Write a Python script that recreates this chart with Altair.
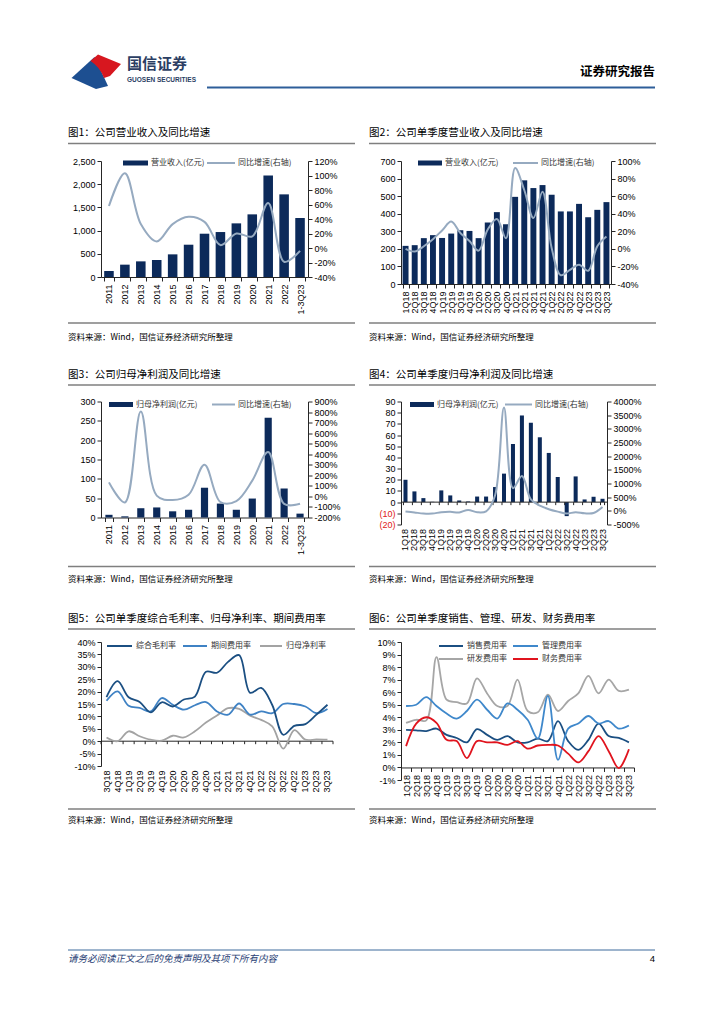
import altair as alt
import pandas as pd

CN = "Noto Sans CJK SC"
NUM = "Liberation Sans"
NAVY = "#0C2A5A"
YOY_GRAY = "#96AAC0"
AXIS_C = "#262626"
SEP_C = "#7F7F7F"
SOURCE = "资料来源：Wind，国信证券经济研究所整理"

# ---------------- data ----------------
years = ["2011", "2012", "2013", "2014", "2015", "2016", "2017", "2018",
         "2019", "2020", "2021", "2022", "1-3Q23"]
revenue = [129, 266, 337, 366, 488, 696, 933, 969, 1156, 1350, 2190, 1781, 1271]
revenue_yoy = [58, 103, 33, 9, 33, 43, 36, 4, 20, 16, 62, -19, -4]

quarters = ["1Q18", "2Q18", "3Q18", "4Q18", "1Q19", "2Q19", "3Q19", "4Q19",
            "1Q20", "2Q20", "3Q20", "4Q20", "1Q21", "2Q21", "3Q21", "4Q21",
            "1Q22", "2Q22", "3Q22", "4Q22", "1Q23", "2Q23", "3Q23"]
revenue_q = [217, 221, 261, 278, 262, 287, 306, 302, 261, 350, 409, 340,
             496, 590, 546, 563, 508, 413, 413, 456, 380, 422, 466]
revenue_q_yoy = [0, -3, 3, 11, 21, 31, 18, 9, -2, 22, 34, 12,
                 92, 67, 35, 65, 1, -30, -24, -18, -25, 3, 14]

net_profit = [7, 3, 24, 26, 16, 20, 77, 36, 20, 49, 258, 75, 10]
net_profit_yoy = [133, -57, 805, 8, -35, 15, 300, -53, -44, 150, 420, -71, -70]

net_profit_q = [20, 9.6, 3.6, 0.3, 10.5, 6, 1.5, 0.6, 5, 5, 13.5, 25.5,
                52, 77.5, 71, 58, 44, 22.5, -12.5, 23, 2.4, 4.8, 3]
net_profit_q_yoy = [-25, -60, -98, -100, -50, -37, -58, 35, -52, -17, 560, 3776,
                    830, 1275, 420, 190, 60, -30, -100, -50, -90, -80, 140]

q5 = quarters[2:]
gross_margin = [17.8, 24.2, 17.7, 15.8, 11.6, 15.7, 14.0, 16.8, 18.0, 28.0, 27.6,
                32.0, 34.7, 19.5, 21.5, 14.6, 2.6, 6.2, 6.9, 10.7, 14.7]
expense_ratio = [16.3, 20.1, 14.3, 13.4, 12.0, 17.4, 14.7, 12.7, 14.5, 15.8, 12.0,
                 10.7, 15.2, 10.7, 12.0, 11.3, 15.0, 15.0, 14.0, 11.3, 13.0]
net_margin = [1.5, 0.0, 4.0, 2.0, 0.6, 0.2, 2.2, 1.5, 4.0, 7.5, 10.4,
              13.3, 13.0, 10.3, 8.6, 6.0, -3.0, 4.5, 0.6, 0.7, 0.6]

sales_exp = [3.0, 2.96, 2.9, 3.1, 2.6, 2.35, 2.0, 3.05, 2.6, 2.2, 2.5, 2.0,
             2.0, 2.3, 2.1, 3.7, 2.1, 1.4, 2.2, 3.5, 2.5, 2.35, 2.0]
admin_exp = [4.9, 5.0, 5.6, 4.9, 4.3, 3.9, 4.5, 5.4, 4.6, 3.9, 5.1, 4.6,
             3.8, 2.3, 5.7, 0.6, 3.1, 3.5, 4.1, 3.5, 3.7, 3.1, 3.35]
rd_exp = [3.55, 3.8, 3.75, 8.8, 5.4, 5.2, 5.1, 7.1, 5.9, 4.9, 4.9, 7.0,
          4.5, 4.4, 5.8, 4.5, 5.3, 5.9, 7.3, 5.9, 7.0, 6.1, 6.2]
fin_exp = [1.7, 3.5, 4.0, 3.55, 2.2, 2.1, 0.75, 2.1, 2.0, 2.0, 1.8, 2.1,
           1.5, 1.75, 1.8, 1.75, 1.1, 0.4, 1.3, 2.5, 1.3, -0.05, 1.45]

ONE = pd.DataFrame({"k": [0]})


# ---------------- helpers for decorations (page coords -> panel coords) ----------------
def tmark(s, px, py, org, size=9.0, color="#000000", align="left",
          weight="normal", style="normal", font=CN):
    return alt.Chart(pd.DataFrame({"t": [s]})).mark_text(
        align=align, baseline="middle", fontSize=size, font=font, color=color,
        fontWeight=weight, fontStyle=style
    ).encode(x=alt.value(px - org[0]), y=alt.value(py - org[1]), text="t:N")


def hrule(px1, px2, py, org, color, width):
    return alt.Chart(ONE).mark_rule(color=color, strokeWidth=width).encode(
        x=alt.value(px1 - org[0]), x2=alt.value(px2 - org[0]), y=alt.value(py - org[1]))


def box(px1, px2, py1, py2, org, color):
    return alt.Chart(ONE).mark_rect(color=color).encode(
        x=alt.value(px1 - org[0]), x2=alt.value(px2 - org[0]),
        y=alt.value(py1 - org[1]), y2=alt.value(py2 - org[1]))


def logo_part(path, color, px, py, size, org):
    return alt.Chart(ONE).mark_point(shape=path, size=size, filled=True, color=color,
                                     opacity=1, strokeWidth=0).encode(
        x=alt.value(px - org[0]), y=alt.value(py - org[1]))


ROWS = [(133, 143.5, 323, 337), (375, 385.5, 567, 579), (620, 630, 810, 821)]


def frame(title, org, col, row):
    x0 = 68 if col == 0 else 368
    ty, ly, by, sy = ROWS[row]
    return [tmark(title, x0, ty, org, size=10.5),
            hrule(x0, x0 + 287, ly, org, SEP_C, 1.6),
            hrule(x0, x0 + 287, by, org, SEP_C, 1.6),
            tmark(SOURCE, x0, sy, org, size=8.5)]


def bl_legend(org, rx1, rx2, ry, bar_label, lx1, lx2, line_label):
    return [box(rx1, rx2, ry - 2.5, ry + 2.5, org, NAVY),
            tmark(bar_label, rx2 + 3, ry, org, size=8, color="#333333"),
            hrule(lx1, lx2, ry, org, YOY_GRAY, 2),
            tmark(line_label, lx2 + 3, ry, org, size=8, color="#333333")]


def line_legend(org, items):
    out = []
    for (x1, x2, y, color, label) in items:
        out.append(hrule(x1, x2, y, org, color, 2))
        out.append(tmark(label, x2 + 4, y, org, size=8, color="#333333"))
    return out


def zero_axis_layers(cats, xs, xa, ys, ya, W, tick_len):
    """Horizontal axis line at value 0 with downward ticks at category boundaries."""
    dz = pd.DataFrame({"cat": cats, "z": [0.0] * len(cats), "z2": [-tick_len] * len(cats)})
    base = alt.Chart(dz).mark_rule(color=AXIS_C, strokeWidth=1)
    zero = alt.Chart(dz.head(1)).mark_rule(color=AXIS_C, strokeWidth=1).encode(
        x=alt.value(0), x2=alt.value(W), y=alt.Y("z:Q", scale=ys, axis=ya))
    ticks = base.encode(x=alt.X("cat:N", scale=xs, axis=xa, bandPosition=0),
                        y=alt.Y("z:Q", scale=ys, axis=ya), y2="z2:Q")
    tick_end = alt.Chart(dz.tail(1)).mark_rule(color=AXIS_C, strokeWidth=1).encode(
        x=alt.X("cat:N", scale=xs, axis=xa, bandPosition=1),
        y=alt.Y("z:Q", scale=ys, axis=ya), y2="z2:Q")
    return [zero, ticks, tick_end]


# ---------------- panel builders ----------------
def bar_line_panel(cats, bars, yoy, W, H, ldom, lvals, rdom, rvals, pad,
                   left_kwargs, pre=(), extras=(), zero_axis=False, tick_len=0.0):
    df = pd.DataFrame({"cat": cats, "v": bars, "g": yoy})
    xs = alt.Scale(type="band", domain=cats, paddingInner=pad, paddingOuter=pad / 2)
    if zero_axis:
        xa = alt.Axis(title=None, labelAngle=270, domain=False, ticks=False, labelPadding=4,
                      labelOverlap=False)
    else:
        xa = alt.Axis(title=None, labelAngle=270, tickBand="extent", tickSize=4, labelPadding=3,
                      labelOverlap=False)
    ys = alt.Scale(domain=ldom, nice=False)
    la = alt.Axis(title=None, values=lvals, tickSize=4, labelPadding=2, labelOverlap=False,
                  **left_kwargs)
    bars_c = alt.Chart(df).mark_bar(color=NAVY).encode(
        x=alt.X("cat:N", scale=xs, axis=xa),
        y=alt.Y("v:Q", scale=ys, axis=la))
    inner_layers = [bars_c]
    if zero_axis:
        inner_layers += zero_axis_layers(cats, xs, xa, ys, la, W, tick_len)
    inner = alt.layer(*inner_layers)
    line = alt.Chart(df).mark_line(color=YOY_GRAY, strokeWidth=2,
                                   interpolate="catmull-rom").encode(
        x=alt.X("cat:N", scale=xs, axis=xa, bandPosition=0.5),
        y=alt.Y("g:Q", scale=alt.Scale(domain=rdom, nice=False, zero=False),
                axis=alt.Axis(orient="right", title=None, values=rvals, tickSize=4,
                              labelPadding=2, labelOverlap=False,
                              labelExpr="datum.value + '%'")))
    return alt.layer(*pre, inner, line, *extras).resolve_scale(y="independent").properties(
        width=W, height=H)


def lines_panel(cats, names, vals, colors, W, H, ydom, yvals, extras=(),
                mode="bottom", tick_len=0.0, offset=0.0):
    xs = alt.Scale(type="band", domain=cats, paddingInner=0, paddingOuter=0)
    ys = alt.Scale(domain=ydom, nice=False, zero=False)
    ya = alt.Axis(title=None, values=yvals, tickSize=4, labelPadding=2, labelOverlap=False,
                  labelExpr="datum.value + '%'")
    layers = []
    if mode == "bottom":
        xa = alt.Axis(title=None, labelAngle=270, domain=False, ticks=False, labelPadding=4,
                      labelOverlap=False)
    else:
        xa = alt.Axis(title=None, labelAngle=270, tickBand="extent", tickSize=4,
                      labelPadding=3, offset=offset, labelOverlap=False)
    for name, vs, col in zip(names, vals, colors):
        d = pd.DataFrame({"cat": cats, "v": vs, "s": [name] * len(cats)})
        layers.append(alt.Chart(d).mark_line(strokeWidth=1.8, color=col,
                                             interpolate="catmull-rom").encode(
            x=alt.X("cat:N", scale=xs, axis=xa, bandPosition=0.5),
            y=alt.Y("v:Q", scale=ys, axis=ya)))
    if mode == "bottom":
        layers = zero_axis_layers(cats, xs, xa, ys, ya, W, tick_len) + layers
    return alt.layer(*layers, *extras).properties(width=W, height=H)


# ---------------- panel origins (page coordinates of plot area top-left) ----------------
O1, O2 = (101, 161), (400, 161)
O3, O4 = (101, 402), (400, 402)
O5, O6 = (101, 643), (400, 643)

# tiny corner mark fixing the page extent + header, placed in panel 1
bg = box(8, 9, 8, 9, O1, "#FFFFFF")
header = [
    logo_part("M-0.98,0.4 L-0.06,-0.44 Q0.2,0.1 0.48,0.72 L0,0.84 Z", "#1D4F91", 96, 68, 2500, O1),
    logo_part("M-0.22,-0.28 L0.08,-0.54 L1,-0.16 L0.56,0.32 L0.32,0.4 Q0.15,-0.05 -0.22,-0.28 Z",
              "#D7171F", 96, 68, 2500, O1),
    tmark("国信证券", 127, 64, O1, size=15, color="#2B3E63", weight="bold"),
    tmark("GUOSEN SECURITIES", 127, 80, O1, size=6.5, color="#2B3E63", font=NUM, weight="bold"),
    tmark("证券研究报告", 655, 72, O1, size=12.5, color="#000000", align="right", weight="bold"),
    hrule(207, 655, 87.5, O1, "#2E5E99", 2),
]
footer = [
    hrule(68, 655, 951, O5, "#3D6A9C", 1),
    tmark("请务必阅读正文之后的免责声明及其项下所有内容", 68, 960, O5, size=9.5,
          color="#1F3D73", style="italic"),
    tmark("4", 655, 960, O5, size=9.5, color="#000000", align="right", font=NUM),
]

p1 = bar_line_panel(
    years, revenue, revenue_yoy, 207, 116, [0, 2500], list(range(0, 2501, 500)),
    [-40, 120], list(range(-40, 121, 20)), 0.4, {"format": ",d"},
    pre=[bg],
    extras=header + frame("图1：公司营业收入及同比增速", O1, 0, 0)
    + bl_legend(O1, 123, 148, 163, "营业收入(亿元)", 207, 235, "同比增速(右轴)"))

p2 = bar_line_panel(
    quarters, revenue_q, revenue_q_yoy, 210, 123, [0, 700], list(range(0, 701, 100)),
    [-40, 100], list(range(-40, 101, 20)), 0.35, {},
    extras=frame("图2：公司单季度营业收入及同比增速", O2, 1, 0)
    + bl_legend(O2, 417, 441, 163, "营业收入(亿元)", 512, 537, "同比增速(右轴)"))

p3 = bar_line_panel(
    years, net_profit, net_profit_yoy, 207, 116, [0, 300], list(range(0, 301, 50)),
    [-200, 900], list(range(-200, 901, 100)), 0.55, {},
    extras=frame("图3：公司归母净利润及同比增速", O3, 0, 1)
    + bl_legend(O3, 109, 133, 405, "归母净利润(亿元)", 212, 235, "同比增速(右轴)"))

p4 = bar_line_panel(
    quarters, net_profit_q, net_profit_q_yoy, 206, 123, [-20, 90], list(range(-20, 91, 10)),
    [-500, 4000], list(range(-500, 4001, 500)), 0.55,
    {"labelExpr": "datum.value < 0 ? '(' + abs(datum.value) + ')' : datum.value",
     "labelColor": alt.condition("datum.value < 0", alt.value("#E02020"), alt.value("#000000"))},
    extras=frame("图4：公司单季度归母净利润及同比增速", O4, 1, 1)
    + bl_legend(O4, 409, 433, 405, "归母净利润(亿元)", 504, 531, "同比增速(右轴)"),
    zero_axis=True, tick_len=110 / 123 * 3)

p5 = lines_panel(
    q5, ["归母净利率", "期间费用率", "综合毛利率"],
    [net_margin, expense_ratio, gross_margin],
    ["#A3A3A3", "#3F82C4", "#1B4F82"], 232, 124, [-10, 40], list(range(-10, 41, 5)),
    extras=frame("图5：公司单季度综合毛利率、归母净利率、期间费用率", O5, 0, 2)
    + line_legend(O5, [(107, 132, 647, "#1B4F82", "综合毛利率"),
                       (183, 207, 647, "#3F82C4", "期间费用率"),
                       (260, 282, 647, "#A3A3A3", "归母净利率")])
    + footer,
    mode="bottom", tick_len=50 / 124 * 3)

p6 = lines_panel(
    quarters, ["研发费用率", "销售费用率", "管理费用率", "财务费用率"],
    [rd_exp, sales_exp, admin_exp, fin_exp],
    ["#A6A6A6", "#1B4F82", "#3F88CB", "#E0141E"], 233, 138, [-1, 10], list(range(-1, 11, 1)),
    extras=frame("图6：公司单季度销售、管理、研发、财务费用率", O6, 1, 2)
    + line_legend(O6, [(438, 462, 647, "#1B4F82", "销售费用率"),
                       (512, 537, 647, "#3F88CB", "管理费用率"),
                       (438, 462, 660, "#A6A6A6", "研发费用率"),
                       (512, 537, 660, "#E0141E", "财务费用率")]),
    mode="offset", offset=-(138 - 138 * 10 / 11))

chart = alt.concat(
    p1, p2, p3, p4, p5, p6, columns=2,
    spacing={"row": 102.5, "column": 67}, bounds="flush", align="all"
).properties(padding=0, background="#FFFFFF").configure_view(stroke=None).configure_axis(
    labelFont=NUM, labelFontSize=9, labelColor="#000000", domainColor=AXIS_C,
    tickColor=AXIS_C, grid=False, labelOverlap=False, labelBound=False)

chart.save("out.html", embed_options={"renderer": "svg", "actions": False})
